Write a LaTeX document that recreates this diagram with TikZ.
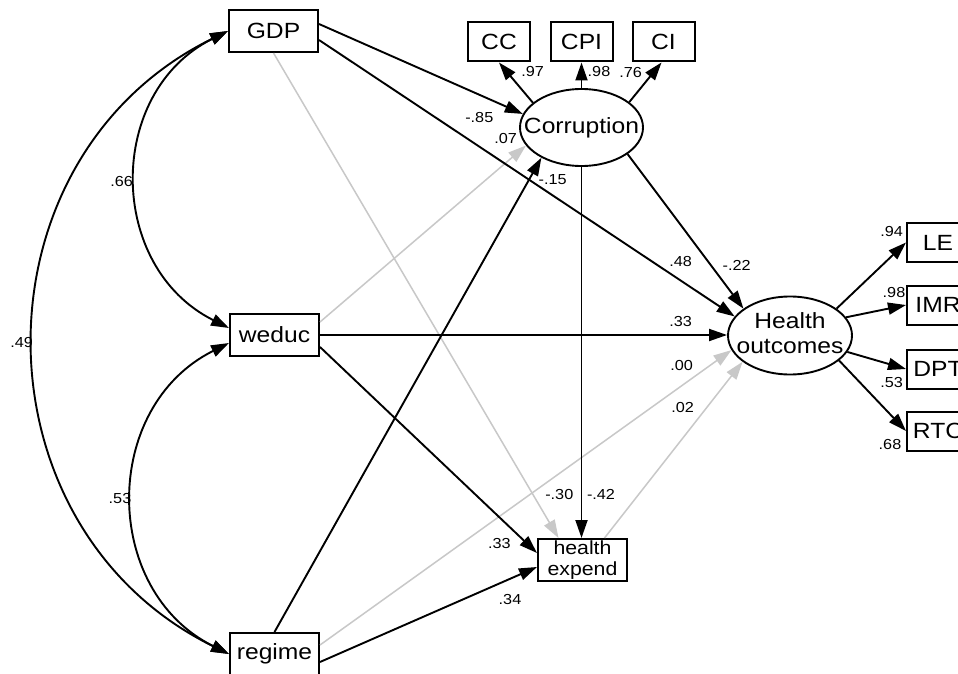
\documentclass[tikz,border=0pt]{standalone}
\usepackage{fontspec}
\setmainfont{Liberation Sans}[FakeStretch=1.12]
\usetikzlibrary{arrows.meta,shapes.geometric}
\definecolor{weakgray}{RGB}{200,200,200}
\begin{document}
\begin{tikzpicture}[x=1pt,y=-1pt,
  box/.style={draw,line width=2pt,minimum width=89pt,minimum height=42pt,inner sep=0pt,align=center,font=\fontsize{22}{25}\selectfont},
  ind/.style={box,minimum width=62pt,minimum height=39pt},
  lat/.style={draw,ellipse,line width=1.9pt,inner sep=0pt,font=\fontsize{22}{25}\selectfont},
  num/.style={inner sep=0pt,font=\fontsize{14.5}{16}\selectfont},
  pth/.style={line width=1.9pt,-{Triangle[length=18pt,width=12pt]}},
  weak/.style={line width=1.5pt,draw=weakgray,-{Triangle[length=18pt,width=12pt,color=weakgray]}},
  cov/.style={line width=1.9pt,{Triangle[length=18pt,width=12pt]}-{Triangle[length=18pt,width=12pt]}}]
\useasboundingbox[fill=white] (0,0) rectangle (958,674);

% observed exogenous
\node[box] (GDP) at (273.5,31) {GDP};
\node[box] (weduc) at (274.5,335) {weduc};
\node[box] (regime) at (274.5,654) {regime};
\node[box,font=\fontsize{19}{21.5}\selectfont] (hexp) at (582.5,560) {health\\expend};

% latent
\node[lat,minimum width=123pt,minimum height=77pt] (Corr) at (581.5,127.5) {\makebox[0pt]{Corruption}};
\node[lat,minimum width=124pt,minimum height=78pt] (Health) at (790,335.5)
  {\makebox[0pt]{\begin{tabular}{@{}c@{}}Health\\outcomes\end{tabular}}};

% indicators
\node[ind] (CC) at (499,42) {CC};
\node[ind] (CPI) at (581.5,42) {CPI};
\node[ind] (CI) at (663.5,42) {CI};
\node[ind] (LE) at (938,242.5) {LE};
\node[ind] (IMR) at (938,305) {IMR};
\node[ind] (DPT) at (938,369) {DPT};
\node[ind] (RTC) at (938,431) {RTC};

% covariances
\draw[cov] (GDP.west) .. controls +(-122.5,61.3) and +(-122.5,-61.3) .. ([yshift=7pt]weduc.west);
\draw[cov] ([yshift=-8pt]weduc.west) .. controls +(-128,63.8) and +(-128,-63.8) .. (regime.west);
\draw[cov] (GDP.west) .. controls +(-258.7,127.1) and +(-258.7,-127.1) .. (regime.west);

% weak (non-significant) paths
\draw[weak] (GDP.south) -- ([xshift=-24pt]hexp.north);
\draw[weak] ([yshift=13pt]weduc.east) -- (Corr.198);
\draw[weak] ([yshift=9pt]regime.east) -- (Health.194);
\draw[weak] ([xshift=22pt]hexp.north) -- (Health.209);

% structural paths
\draw[pth] ([yshift=7pt]GDP.east) -- (Corr.167);
\draw[pth] ([yshift=-9pt]GDP.east) -- (Health.161);
\draw[pth] (weduc.east) -- (weduc.east -| Health.west);
\draw[pth] ([yshift=-12pt]weduc.east) -- ([yshift=7pt]hexp.west);
\draw[pth] (regime.north) -- (Corr.217);
\draw[pth] ([yshift=-8pt]regime.east) -- ([yshift=-7pt]hexp.west);
\draw[pth] (Corr.south) -- (Corr.south |- hexp.north);
\draw[pth] (Corr.-30) -- (Health.150);

% measurement paths
\draw[pth] (Corr.153) -- (CC.south);
\draw[pth] (Corr.north) -- (CPI.south);
\draw[pth] (Corr.28) -- ([xshift=-2pt]CI.south);
\draw[pth] (Health.30) -- (LE.west);
\draw[pth] (Health.18) -- (IMR.west);
\draw[pth] (Health.-16) -- (DPT.west);
\draw[pth] (Health.-27) -- (RTC.west);

% coefficients
\node[num] (l1) at (121.7,181.7) {.66};
\node[num] (l2) at (21.7,342.3) {.49};
\node[num] (l3) at (120,499) {.53};
\node[num] (l4) at (532.7,71.7) {.97};
\node[num] (l5) at (599,71.7) {.98};
\node[num] (l6) at (630.7,72.7) {.76};
\node[num] (l7) at (479.3,117.3) {-.85};
\node[num] (l8) at (505.7,138.3) {.07};
\node[num] (l9) at (552.7,180) {-.15};
\node[num] (l10) at (680.7,261.7) {.48};
\node[num] (l11) at (736.7,265) {-.22};
\node[num] (l12) at (680.7,321.7) {.33};
\node[num] (l13) at (891.7,231.7) {.94};
\node[num] (l14) at (894,292.7) {.98};
\node[num] (l15) at (891.7,382.7) {.53};
\node[num] (l16) at (890,445) {.68};
\node[num] (l17) at (681.7,366) {.00};
\node[num] (l18) at (682.7,407.7) {.02};
\node[num] (l19) at (559.3,495) {-.30};
\node[num] (l20) at (601,494) {-.42};
\node[num] (l21) at (499.3,543.3) {.33};
\node[num] (l22) at (510,599.3) {.34};
\end{tikzpicture}
\end{document}
